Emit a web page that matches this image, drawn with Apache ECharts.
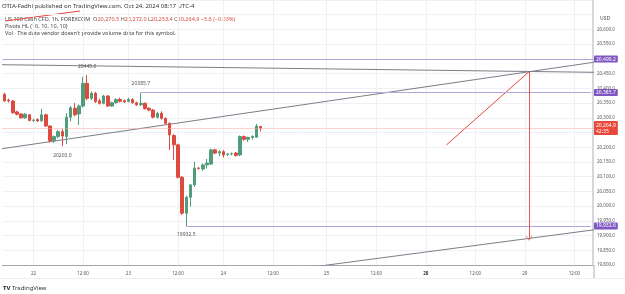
<!DOCTYPE html>
<html>
<head>
<meta charset="utf-8">
<script src="https://cdn.jsdelivr.net/npm/echarts@6.0.0/dist/echarts.min.js"></script>
<style>
html, body { margin: 0; padding: 0; background: #fff; }
#main { width: 625px; height: 294px; }
</style>
</head>
<body>
<div id="main"></div>
<script>
let chart = echarts.init(document.getElementById('main'));

// hourly candles, Oct 21 afternoon -> Oct 24 08:00
const opens = [20380, 20360, 20357, 20320, 20313, 20300, 20310, 20291, 20294, 20290,
    20310, 20272, 20222, 20236, 20253, 20236, 20302, 20332, 20313, 20340,
    20417, 20366, 20383, 20358, 20349, 20374, 20340, 20351, 20362, 20358,
    20356, 20362, 20351, 20344, 20349, 20332, 20326, 20302, 20315, 20298,
    20281, 20240, 20208, 20098, 19976, 20030, 20072, 20129, 20126, 20140,
    20143, 20191, 20180, 20185, 20176, 20177, 20180, 20174, 20236, 20227,
    20233, 20234, 20270.5];
const closes = [20357, 20358, 20317, 20312, 20300, 20312, 20291, 20292, 20289, 20310,
    20272, 20222, 20236, 20253, 20238, 20302, 20334, 20310, 20340, 20417,
    20366, 20383, 20355, 20349, 20374, 20340, 20351, 20362, 20356, 20354,
    20362, 20351, 20344, 20349, 20331, 20326, 20302, 20315, 20298, 20281,
    20242, 20208, 20098, 19976, 20030, 20072, 20129, 20128, 20140, 20146,
    20191, 20180, 20185, 20174, 20177, 20178, 20172, 20236, 20227, 20233,
    20237, 20272, 20264.9];
const lows = [20355, 20352, 20314, 20308, 20297, 20296, 20288, 20286, 20286, 20286,
    20270, 20216, 20214, 20230, 20203, 20210, 20288, 20305, 20276, 20335,
    20360, 20360, 20350, 20345, 20346, 20337, 20337, 20348, 20352, 20350,
    20352, 20348, 20340, 20340, 20328, 20322, 20298, 20298, 20294, 20278,
    20191, 20157, 20094, 19970, 19932.5, 19998, 20065, 20124, 20120, 20128,
    20140, 20176, 20170, 20165, 20170, 20172, 20168, 20170, 20222, 20218,
    20226, 20232, 20253.4];
const highs = [20385, 20365, 20360, 20324, 20316, 20316, 20313, 20296, 20298, 20330,
    20314, 20275, 20240, 20258, 20262, 20316, 20340, 20350, 20345, 20439,
    20445, 20390, 20388, 20365, 20378, 20377, 20355, 20366, 20368, 20362,
    20368, 20366, 20355, 20385.7, 20352, 20336, 20330, 20320, 20322, 20302,
    20285, 20244, 20212, 20102, 20035, 20075, 20151, 20133, 20145, 20160,
    20195, 20195, 20190, 20190, 20180, 20182, 20184, 20240, 20240, 20236,
    20240, 20279, 20272];

const slotCount = 143;
const timeLabels = ['22', '12:00', '23', '12:00', '24', '12:00', '25', '12:00', '28', '12:00', '29', '12:00'];
const timeLabelSlots = [7, 19, 30, 42, 53, 65, 78, 90, 102, 114, 126, 138];

// pivots HL: [slot, price, side]
const pivots = [[20, 20445.0, 'top'], [14, 20203.0, 'bottom'], [33, 20385.7, 'top'], [44, 19932.5, 'bottom']];

// drawings: [slot, price] pairs
const upperTrend = [[-1, 20480.3], [143, 20454.4]];
const risingTrend = [[-1, 20194.2], [143, 20489.1]];
const lowerTrend = [[70, 19784.8], [143, 19920.0]];
const projection = [[107, 20207.6], [127, 20456.5]];
const projectionDrop = [[127, 20456.5], [127, 19890.7]];

const levelTop = 20499.2;
const levelHigh = 20385.7, levelHighSlot = 33;
const levelLow = 19932.6, levelLowSlot = 44;
const lastPrice = 20264.9;
const countdown = '42:35';

const upColor = '#4f9d7b';
const downColor = '#dd4b3e';
const purple = '#7e57c2';
const arrowRed = '#e4473e';
const font = 'Noto Sans';

let slots = [];
for (let i = 0; i < slotCount; i++) slots.push('s' + i);

function fmt(v) {
    return v.toLocaleString('en-US', { minimumFractionDigits: 1, maximumFractionDigits: 1 });
}

function tagLabel(text, dist) {
    return {
        show: true, position: 'end', distance: dist, formatter: text,
        backgroundColor: purple, color: '#fff', fontSize: 5, fontFamily: font,
        padding: [1, 2], borderRadius: 1
    };
}

let trendStyle = { color: '#7b7e88', width: 1 };
let levelStyle = { color: '#b7a4dc', width: 1, type: 'solid' };

let option = {
    animation: false,
    grid: { left: 2.5, right: 32, top: 0, bottom: 29 },
    xAxis: {
        type: 'category',
        data: slots,
        boundaryGap: true,
        axisTick: { show: false },
        axisLine: { lineStyle: { color: '#a3a6af', width: 1 } },
        axisLabel: {
            interval: (idx) => timeLabelSlots.indexOf(idx) >= 0,
            formatter: (v, idx) => {
                let t = timeLabels[timeLabelSlots.indexOf(idx)] || '';
                return t === '28' ? '{b|' + t + '}' : t;
            },
            color: '#555', fontSize: 4.5, fontFamily: font, margin: 6,
            rich: { b: { fontWeight: 'bold', fontSize: 4.5, color: '#333', fontFamily: font } }
        },
        splitLine: {
            show: true,
            alignWithLabel: true,
            interval: (idx) => timeLabelSlots.indexOf(idx) >= 0,
            lineStyle: { color: '#f0f1f4', width: 1 }
        }
    },
    yAxis: {
        type: 'value',
        position: 'right',
        min: 19800, max: 20700, interval: 50,
        axisLine: { show: true, lineStyle: { color: '#d6d7db', width: 2 } },
        axisTick: { show: false },
        splitLine: { lineStyle: { color: '#f0f1f4', width: 1 } },
        axisLabel: {
            formatter: (v) => v > 20600 ? '' : fmt(v),
            color: '#555', fontSize: 4.5, fontFamily: font, margin: 4
        }
    },
    series: [
        {
            type: 'candlestick',
            data: opens.map((o, i) => [o, closes[i], lows[i], highs[i]]),
            barWidth: 3,
            itemStyle: { color: upColor, color0: downColor, borderColor: upColor, borderColor0: downColor, borderWidth: 1 },
            markPoint: {
                symbol: 'circle', symbolSize: 1,
                itemStyle: { color: 'transparent' },
                data: pivots.map(p => ({
                    coord: [p[0], p[1]],
                    label: { show: true, position: p[2], distance: 6, formatter: p[1].toFixed(1), color: '#555', fontSize: 5, fontFamily: font }
                }))
            },
            markLine: {
                silent: true,
                symbol: ['none', 'none'],
                data: [
                    { yAxis: levelTop, lineStyle: levelStyle, label: tagLabel(fmt(levelTop), 1) },
                    [{ coord: [levelHighSlot, levelHigh], lineStyle: levelStyle, label: tagLabel(fmt(levelHigh), 3) },
                     { coord: [slotCount - 1, levelHigh] }],
                    [{ coord: [levelLowSlot, levelLow], lineStyle: levelStyle, label: tagLabel(fmt(levelLow), 3) },
                     { coord: [slotCount - 1, levelLow] }],
                    {
                        yAxis: lastPrice,
                        lineStyle: { color: '#f4a3a0', width: 1, type: 'dotted' },
                        label: {
                            show: true, position: 'end', distance: 1,
                            formatter: fmt(lastPrice) + '\n' + countdown,
                            backgroundColor: '#e8473b', color: '#fff', fontSize: 5, fontFamily: font,
                            lineHeight: 6, padding: [1, 2], borderRadius: 1
                        }
                    }
                ]
            },
            z: 3
        },
        { type: 'line', data: upperTrend, symbol: 'none', lineStyle: trendStyle, silent: true, clip: true },
        { type: 'line', data: risingTrend, symbol: 'none', lineStyle: trendStyle, silent: true, clip: true },
        { type: 'line', data: lowerTrend, symbol: 'none', lineStyle: trendStyle, silent: true, clip: true },
        {
            type: 'line', data: projection, symbol: 'none', silent: true,
            color: arrowRed,
            lineStyle: { color: arrowRed, width: 1 },
            markLine: {
                silent: true,
                symbol: ['none', 'path://M0,8L5,0L10,8L9,8L5,1.8L1,8Z'],
                symbolSize: [7, 5],
                itemStyle: { color: arrowRed },
                lineStyle: { color: arrowRed, width: 1, type: 'solid', opacity: 0.9 },
                label: { show: false },
                data: [[{ coord: projectionDrop[0], lineStyle: { color: arrowRed } }, { coord: projectionDrop[1] }]]
            }
        }
    ],
    graphic: [
        { type: 'text', left: 2, top: 3, style: { text: 'OTIA-Fadhl published on TradingView.com, Oct 24, 2024 08:17 UTC-4', fill: '#333', fontSize: 6, fontFamily: font } },
        {
            type: 'text', left: 5, top: 16,
            style: {
                text: '{n|US 100 Cash CFD, 1h, FOREXCOM}  {l|O}{v|20,270.5} {l|H}{v|20,272.0} {l|L}{v|20,253.4} {l|C}{v|20,264.9} {v|\u22125.6 (\u22120.03%)}',
                fontSize: 5.5, fontFamily: font,
                rich: {
                    n: { fill: '#444', fontSize: 5.5, fontFamily: font },
                    l: { fill: '#555', fontSize: 5.5, fontFamily: font },
                    v: { fill: '#d2493d', fontSize: 5.5, fontFamily: font }
                }
            }
        },
        { type: 'text', left: 5, top: 23, style: { text: 'Pivots HL (10, 10, 10, 10)', fill: '#444', fontSize: 5.5, fontFamily: font } },
        { type: 'text', left: 5, top: 30, style: { text: 'Vol \u00b7 The data vendor doesn\'t provide volume data for this symbol.', fill: '#444', fontSize: 5.5, fontFamily: font } },
        { type: 'line', shape: { x1: 5, y1: 21, x2: 80, y2: 11 }, style: { stroke: arrowRed, lineWidth: 1 } },
        { type: 'text', left: 600, top: 16, style: { text: 'USD', fill: '#444', fontSize: 5, fontFamily: font } },
        { type: 'line', shape: { x1: 0, y1: 278.5, x2: 625, y2: 278.5 }, style: { stroke: '#eeeff2', lineWidth: 1 } },
        { type: 'line', shape: { x1: 594, y1: 265, x2: 594, y2: 278 }, style: { stroke: '#d6d7db', lineWidth: 2 } },
        {
            type: 'text', left: 3, top: 285,
            style: {
                text: '{logo|TV} TradingView', fontSize: 6, fontFamily: font, fill: '#333',
                rich: { logo: { fontWeight: 'bold', fontSize: 6, fill: '#131722', fontFamily: font } }
            }
        }
    ]
};

chart.setOption(option);
</script>
</body>
</html>
